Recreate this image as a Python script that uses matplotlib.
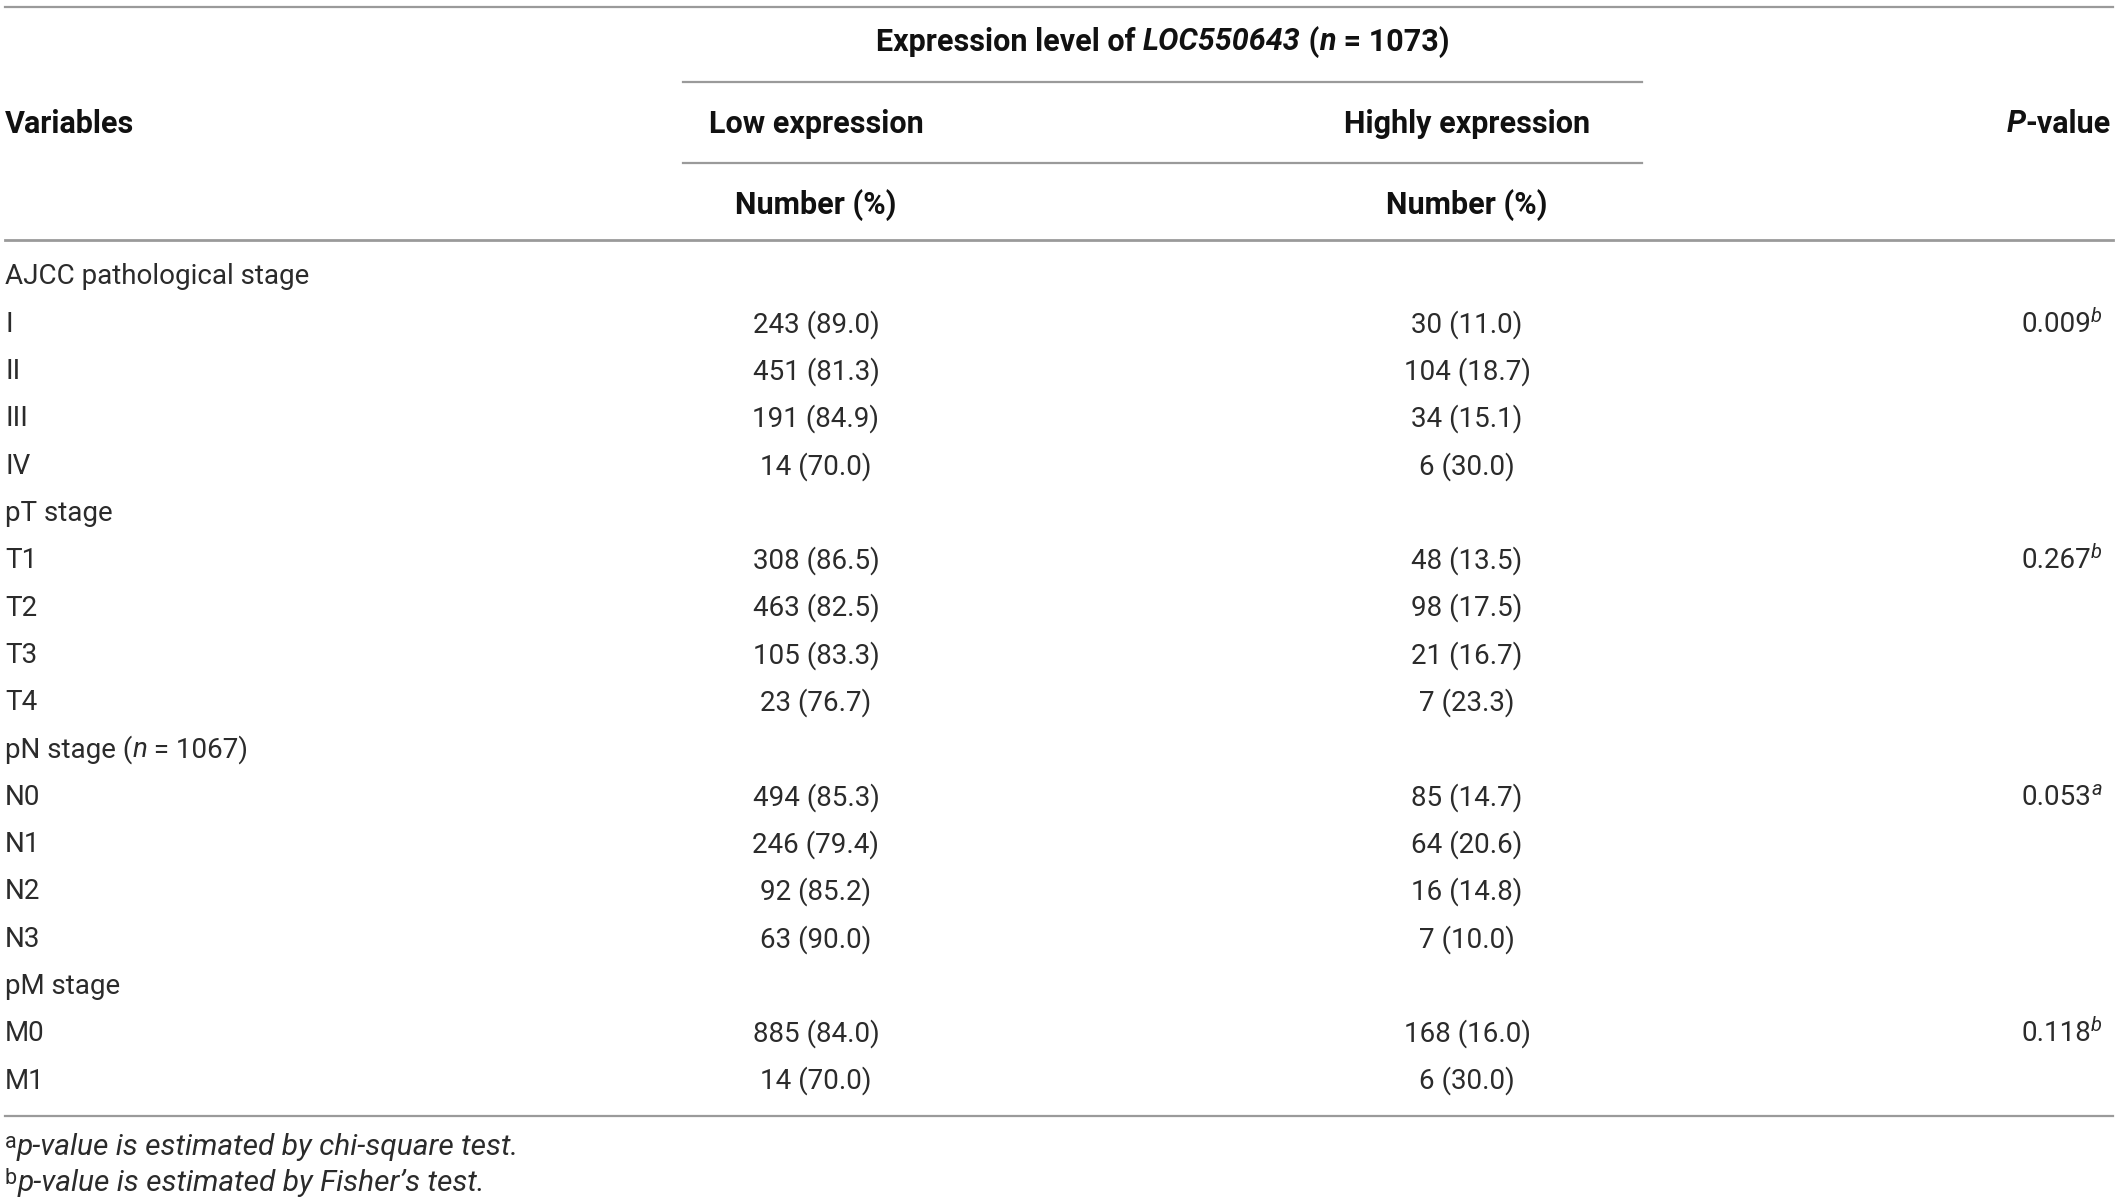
import matplotlib
matplotlib.use("Agg")
import matplotlib.pyplot as plt

# ---------------- data ----------------
group_labels = ["AJCC pathological stage", "pT stage", "pN stage", "pM stage"]
group_notes = ["", "", " (n = 1067)", ""]
levels = [["I", "II", "III", "IV"],
          ["T1", "T2", "T3", "T4"],
          ["N0", "N1", "N2", "N3"],
          ["M0", "M1"]]
low_n = [[243, 451, 191, 14], [308, 463, 105, 23], [494, 246, 92, 63], [885, 14]]
low_pct = [[89.0, 81.3, 84.9, 70.0], [86.5, 82.5, 83.3, 76.7],
           [85.3, 79.4, 85.2, 90.0], [84.0, 70.0]]
high_n = [[30, 104, 34, 6], [48, 98, 21, 7], [85, 64, 16, 7], [168, 6]]
high_pct = [[11.0, 18.7, 15.1, 30.0], [13.5, 17.5, 16.7, 23.3],
            [14.7, 20.6, 14.8, 10.0], [16.0, 30.0]]
p_values = ["0.009", "0.267", "0.053", "0.118"]
p_marks = ["b", "b", "a", "b"]
footnotes = [("a", "p-value is estimated by chi-square test."),
             ("b", "p-value is estimated by Fisher\u2019s test.")]

# ---------------- figure ----------------
W, H = 2118, 1203
fig = plt.figure(figsize=(W / 100, H / 100), dpi=100)
ax = fig.add_axes([0, 0, 1, 1])
ax.set_xlim(0, W)
ax.set_ylim(H, 0)
ax.axis("off")

FONT = "Roboto"
BODY = dict(family=FONT, weight="normal", size=20, color="#2b2b2b")
HEAD = dict(family=FONT, weight="bold", size=22, color="#111111")
fig.canvas.draw()
renderer = fig.canvas.get_renderer()


def rich(x, y, pieces, ha="left"):
    """pieces: list of (text, dict of props, dy) drawn left to right."""
    objs = []
    cx = x
    for txt, props, dy in pieces:
        t = ax.text(cx, y + dy, txt, ha="left", va="center", **props)
        w = t.get_window_extent(renderer).width
        objs.append(t)
        cx += w
    total = cx - x
    shift = 0
    if ha == "center":
        shift = -total / 2
    elif ha == "right":
        shift = -total
    for t in objs:
        px, py = t.get_position()
        t.set_position((px + shift, py))
    return objs


line_color = "#9a9a9a"
lw = 1.6

x_left = 5
x_right = 2113
x_low = 816
x_high = 1467
x_p = 2111
x_grp0, x_grp1 = 683, 1642

# horizontal rules
ax.plot([x_left, x_right], [7, 7], color=line_color, lw=lw)
ax.plot([x_grp0, x_grp1], [82, 82], color=line_color, lw=lw)
ax.plot([x_grp0, x_grp1], [163, 163], color=line_color, lw=lw)
ax.plot([x_left, x_right], [240, 240], color=line_color, lw=2.0)
ax.plot([x_left, x_right], [1116, 1116], color=line_color, lw=lw)

# header
HEAD_I = dict(HEAD, style="italic")
rich((x_grp0 + x_grp1) / 2, 42,
     [("Expression level of ", HEAD, 0), ("LOC550643", HEAD_I, 0),
      (" (", HEAD, 0), ("n", HEAD_I, 0), (" = 1073)", HEAD, 0)], ha="center")
ax.text(x_left, 124, "Variables", ha="left", va="center", **HEAD)
ax.text(x_low, 124, "Low expression", ha="center", va="center", **HEAD)
ax.text(x_high, 124, "Highly expression", ha="center", va="center", **HEAD)
rich(x_p, 124, [("P", HEAD_I, 0), ("-value", HEAD, 0)], ha="right")
ax.text(x_low, 205, "Number (%)", ha="center", va="center", **HEAD)
ax.text(x_high, 205, "Number (%)", ha="center", va="center", **HEAD)

# body
y0, step = 277, 47.3
row = 0
BODY_I = dict(BODY, style="italic")
SUP_I = dict(BODY, style="italic", size=14.5)
for g in range(len(group_labels)):
    y = y0 + row * step
    if group_notes[g]:
        rich(x_left, y, [(group_labels[g] + " (", BODY, 0), ("n", BODY_I, 0),
                         (" = 1067)", BODY, 0)])
    else:
        ax.text(x_left, y, group_labels[g], ha="left", va="center", **BODY)
    row += 1
    for k in range(len(levels[g])):
        y = y0 + row * step
        ax.text(x_left, y, levels[g][k], ha="left", va="center", **BODY)
        ax.text(x_low, y, f"{low_n[g][k]} ({low_pct[g][k]:.1f})",
                ha="center", va="center", **BODY)
        ax.text(x_high, y, f"{high_n[g][k]} ({high_pct[g][k]:.1f})",
                ha="center", va="center", **BODY)
        if k == 0:
            rich(x_p - 9, y, [(p_values[g], BODY, 0), (p_marks[g], SUP_I, -8)],
                 ha="right")
        row += 1

# footnotes
FOOT_I = dict(BODY, style="italic", size=21.5)
SUP = dict(BODY, size=15.5)
for i, (mark, txt) in enumerate(footnotes):
    y = 1147 + i * 36
    rich(x_left, y, [(mark, SUP, -5), (txt, FOOT_I, 0)])

fig.savefig("out.png", dpi=100)
